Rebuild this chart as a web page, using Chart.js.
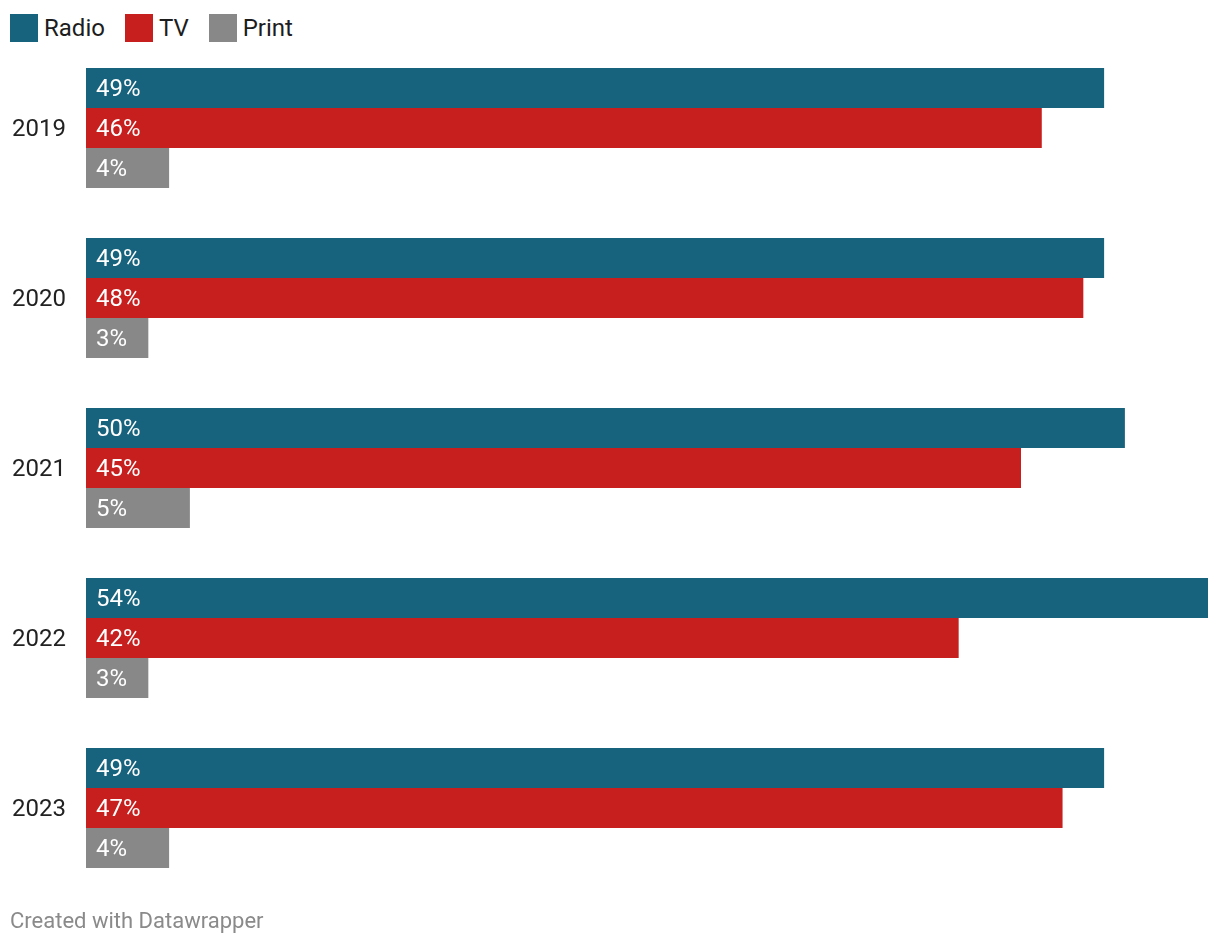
<!DOCTYPE html>
<html>
<head>
<meta charset="utf-8">
<script src="https://cdn.jsdelivr.net/npm/chart.js@4/dist/chart.umd.min.js"></script>
<style>
  html, body { margin: 0; padding: 0; background: #fff; }
  body { width: 1220px; height: 946px; position: relative; overflow: hidden; font-family: Roboto, sans-serif; }
  #legend { position: absolute; left: 10px; top: 14px; height: 28px; display: flex; align-items: center; font-size: 24px; color: #1d1d1d; }
  .item { display: flex; align-items: center; margin-right: 20px; }
  .swatch { width: 28px; height: 28px; margin-right: 6px; }
  #chartWrap { position: absolute; left: 0; top: 0; width: 1220px; height: 946px; }
  #footer { position: absolute; left: 10px; top: 908px; font-size: 22px; color: #8a8a8a; }
</style>
</head>
<body>
<div id="legend"></div>
<div id="chartWrap"><canvas id="myChart" width="1220" height="946"></canvas></div>
<div id="footer">Created with Datawrapper</div>
<script>
// Datos del gráfico
const years = ['2019', '2020', '2021', '2022', '2023'];
const radio = [49, 49, 50, 54, 49];
const tv = [46, 48, 45, 42, 47];
const print = [4, 3, 5, 3, 4];

const seriesNames = ['Radio', 'TV', 'Print'];
const seriesColors = ['#17627c', '#c71e1e', '#888888'];

// Leyenda en HTML
const legend = document.getElementById('legend');
seriesNames.forEach((name, i) => {
    const item = document.createElement('div');
    item.className = 'item';
    item.innerHTML = `<span class="swatch" style="background:${seriesColors[i]}"></span><span>${name}</span>`;
    legend.appendChild(item);
});

// Etiquetas de valor dentro de las barras
const valueLabels = {
    id: 'valueLabels',
    afterDatasetsDraw(chart) {
        const ctx = chart.ctx;
        ctx.save();
        ctx.font = '24px Roboto';
        ctx.fillStyle = '#ffffff';
        ctx.textAlign = 'left';
        ctx.textBaseline = 'middle';
        chart.data.datasets.forEach((ds, i) => {
            chart.getDatasetMeta(i).data.forEach((bar, j) => {
                ctx.fillText(ds.data[j] + '%', chart.chartArea.left + 10, bar.y + 2);
            });
        });
        ctx.restore();
    }
};

const ctx = document.getElementById('myChart').getContext('2d');
new Chart(ctx, {
    type: 'bar',
    data: {
        labels: years,
        datasets: [
            { label: seriesNames[0], data: radio, backgroundColor: seriesColors[0] },
            { label: seriesNames[1], data: tv, backgroundColor: seriesColors[1] },
            { label: seriesNames[2], data: print, backgroundColor: seriesColors[2] }
        ]
    },
    options: {
        indexAxis: 'y',
        responsive: false,
        animation: false,
        layout: { padding: { top: 43, bottom: 53, left: 12, right: 12 } },
        datasets: {
            bar: { categoryPercentage: 120 / 170, barPercentage: 1, borderWidth: 0 }
        },
        plugins: {
            legend: { display: false },
            tooltip: { enabled: false }
        },
        scales: {
            x: { display: false, min: 0, max: 54 },
            y: {
                grid: { display: false, drawTicks: false },
                border: { display: false },
                ticks: { crossAlign: 'far', padding: 0, labelOffset: 2, color: '#222', font: { family: 'Roboto', size: 24 } },
                afterFit(scale) { scale.width = 74; }
            }
        }
    },
    plugins: [valueLabels]
});
</script>
</body>
</html>
